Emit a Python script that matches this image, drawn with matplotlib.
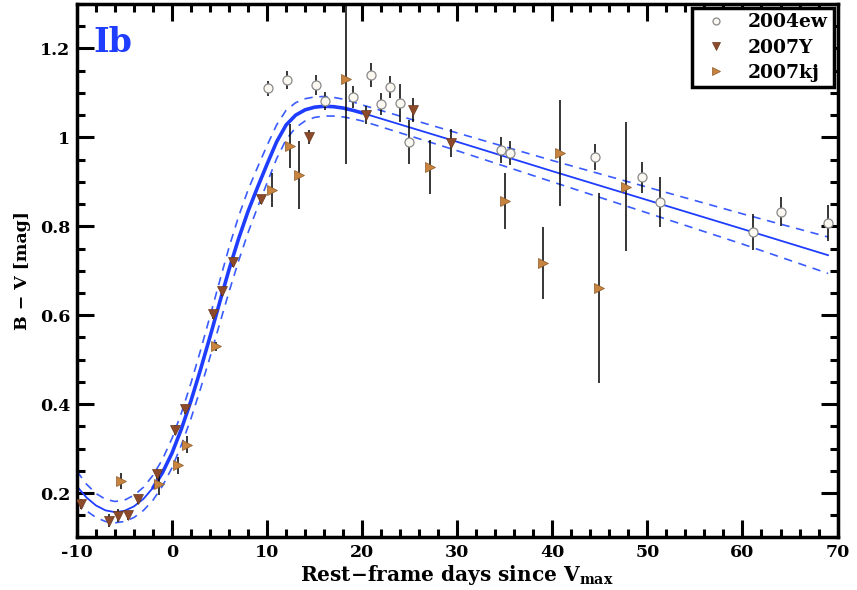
import matplotlib
matplotlib.use("Agg")
import matplotlib.pyplot as plt
from matplotlib.ticker import MultipleLocator, FuncFormatter
from matplotlib.lines import Line2D

plt.rcParams.update({
    "font.family": "DejaVu Serif",
    "font.weight": "bold",
    "mathtext.fontset": "dejavuserif",
    "mathtext.default": "bf",
    "axes.unicode_minus": False,
})

# --- data ---
ew_x = [10.07, 12.12, 15.11, 16.09, 19.04, 20.98, 21.96, 22.94, 23.93, 24.92,
        34.62, 35.60, 44.54, 49.39, 51.32, 61.13, 64.05, 68.98]
ew_y = [1.110, 1.129, 1.118, 1.082, 1.091, 1.140, 1.075, 1.113, 1.077, 0.989,
        0.972, 0.964, 0.956, 0.910, 0.854, 0.787, 0.833, 0.807]
ew_err = [0.017, 0.020, 0.022, 0.020, 0.025, 0.027, 0.025, 0.024, 0.042, 0.049,
          0.029, 0.027, 0.029, 0.034, 0.056, 0.040, 0.032, 0.040]

y07_x = [-9.55, -6.62, -5.64, -4.59, -3.57, -1.59, 0.34, 1.32, 4.35, 5.26,
         6.38, 9.38, 14.37, 20.38, 25.37, 29.31]
y07_y = [0.175, 0.138, 0.149, 0.150, 0.186, 0.243, 0.342, 0.388, 0.602, 0.654,
         0.720, 0.861, 1.000, 1.050, 1.061, 0.987]
y07_err = [0.012, 0.015, 0.015, 0.010, 0.010, 0.012, 0.012, 0.010, 0.010, 0.010,
           0.012, 0.010, 0.016, 0.020, 0.027, 0.031]

kj_x = [-5.39, -1.42, 0.58, 1.53, 4.63, 10.50, 12.44, 13.34, 18.27, 27.13,
        35.01, 38.98, 40.84, 44.93, 47.73]
kj_y = [0.228, 0.220, 0.262, 0.309, 0.530, 0.881, 0.980, 0.916, 1.131, 0.933,
        0.856, 0.718, 0.965, 0.661, 0.889]
kj_err = [0.018, 0.025, 0.020, 0.020, 0.010, 0.038, 0.049, 0.076, 0.190, 0.060,
          0.063, 0.081, 0.120, 0.213, 0.145]

# template fit (center, upper and lower bounds)
fit_x = [-10, -9, -8, -7, -6, -5, -4, -3, -2, -1, 0, 1, 2, 3, 4, 5, 6, 7, 8, 9,
         10, 11, 12, 13, 14, 15, 16, 17, 18, 19, 20, 30, 40, 50, 60, 69]
fit_c = [0.215, 0.190, 0.172, 0.161, 0.157, 0.160, 0.170, 0.187, 0.212, 0.246,
         0.290, 0.345, 0.408, 0.478, 0.552, 0.628, 0.703, 0.772, 0.834, 0.888,
         0.940, 0.990, 1.028, 1.050, 1.062, 1.068, 1.070, 1.069, 1.066, 1.061,
         1.055, 0.990, 0.924, 0.859, 0.794, 0.735]
fit_hi = [0.249, 0.220, 0.199, 0.186, 0.181, 0.184, 0.195, 0.213, 0.240, 0.276,
          0.323, 0.381, 0.448, 0.521, 0.598, 0.676, 0.753, 0.822, 0.882, 0.933,
          0.982, 1.028, 1.061, 1.078, 1.087, 1.091, 1.092, 1.090, 1.086, 1.080,
          1.073, 1.010, 0.948, 0.888, 0.828, 0.776]
fit_lo = [0.181, 0.160, 0.145, 0.136, 0.133, 0.136, 0.145, 0.161, 0.184, 0.216,
          0.257, 0.309, 0.368, 0.435, 0.506, 0.580, 0.653, 0.722, 0.786, 0.843,
          0.898, 0.952, 0.995, 1.022, 1.037, 1.045, 1.048, 1.048, 1.046, 1.042,
          1.037, 0.970, 0.900, 0.830, 0.760, 0.694]

BLUE = "#1f3dff"
DASH = "#3a5cff"
Y_COL = "#8c4a2a"
KJ_COL = "#c8843f"

fig = plt.figure(figsize=(8.57, 5.90), dpi=100)
ax = fig.add_axes([0.0898, 0.0890, 0.8875, 0.9042])

# fit curves
ax.plot(fit_x, fit_c, color=BLUE, lw=1.3, zorder=2)
thick = [i for i, x in enumerate(fit_x) if -2 <= x <= 20]
ax.plot([fit_x[i] for i in thick], [fit_c[i] for i in thick], color=BLUE, lw=2.6,
        zorder=2, solid_capstyle="round")
ax.plot(fit_x, fit_hi, color=DASH, lw=1.2, ls=(0, (5, 4)), zorder=2)
ax.plot(fit_x, fit_lo, color=DASH, lw=1.2, ls=(0, (5, 4)), zorder=2)

# error bars
for xs, ys, es in [(ew_x, ew_y, ew_err), (y07_x, y07_y, y07_err), (kj_x, kj_y, kj_err)]:
    ax.errorbar(xs, ys, yerr=es, fmt="none", ecolor="black", elinewidth=1.1,
                capsize=0, zorder=3)

ax.plot(ew_x, ew_y, "o", ms=6.5, mfc="#fbf8f2", mec="#8a8a8a", mew=0.9,
        ls="none", zorder=4)
ax.plot(y07_x, y07_y, "v", ms=7, mfc=Y_COL, mec="#6a3a20", mew=0.5,
        ls="none", zorder=4)
ax.plot(kj_x, kj_y, ">", ms=7, mfc=KJ_COL, mec="#8a5a2a", mew=0.5,
        ls="none", zorder=4)

ax.set_xlim(-10, 70)
ax.set_ylim(0.1, 1.3)

ax.xaxis.set_major_locator(MultipleLocator(10))
ax.xaxis.set_minor_locator(MultipleLocator(2))
ax.yaxis.set_major_locator(MultipleLocator(0.2))
ax.yaxis.set_minor_locator(MultipleLocator(0.05))
ax.xaxis.set_major_formatter(FuncFormatter(lambda v, p: f"{v:g}"))
ax.yaxis.set_major_formatter(FuncFormatter(lambda v, p: f"{round(v, 2):g}"))

ax.tick_params(which="both", direction="in", top=True, right=True,
               labelsize=12.5, width=2.2)
ax.tick_params(which="major", length=12, pad=5)
ax.tick_params(which="minor", length=6)
for s in ax.spines.values():
    s.set_linewidth(2.5)
for lab in ax.get_xticklabels() + ax.get_yticklabels():
    lab.set_fontweight("bold")

ax.set_xlabel("Rest\u2212frame days since V$_{\\rm max}$", fontsize=14.5,
              fontweight="bold", labelpad=1)
ax.set_ylabel("B \u2212 V [mag]", fontsize=12.5, fontweight="bold", labelpad=6)

ax.text(0.021, 0.91, "Ib", transform=ax.transAxes, fontsize=24,
        fontweight="bold", color=BLUE, va="baseline", ha="left")

handles = [
    Line2D([], [], marker="o", ls="none", ms=5, mfc="#fbf8f2", mec="#8a8a8a", mew=0.9),
    Line2D([], [], marker="v", ls="none", ms=5.5, mfc=Y_COL, mec="#6a3a20", mew=0.5),
    Line2D([], [], marker=">", ls="none", ms=5.5, mfc=KJ_COL, mec="#8a5a2a", mew=0.5),
]
leg = ax.legend(handles, ["2004ew", "2007Y", "2007kj"], loc="upper right",
                fancybox=False, framealpha=1, edgecolor="black",
                prop={"weight": "bold", "size": 13.5}, borderaxespad=0.2,
                handletextpad=0.7, labelspacing=0.38, borderpad=0.3,
                handlelength=2.0)
leg.get_frame().set_linewidth(2.5)

fig.savefig("out.png", dpi=100)
